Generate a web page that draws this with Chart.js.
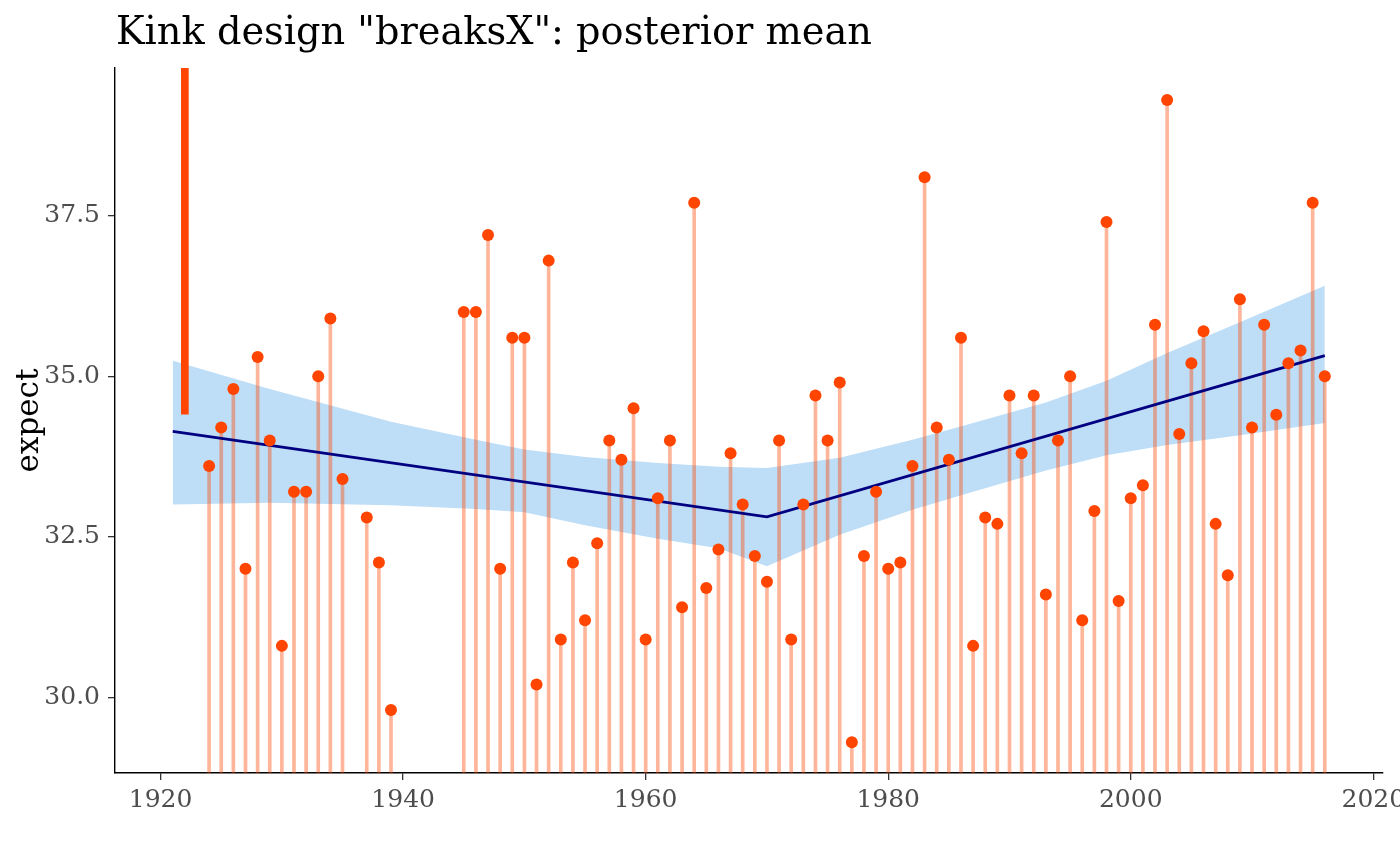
<!DOCTYPE html>
<html>
<head>
<meta charset="utf-8">
<script src="https://cdn.jsdelivr.net/npm/chart.js@4.4.0/dist/chart.umd.min.js"></script>
<style>
  html, body { margin: 0; padding: 0; background: #fff; }
  #wrap { width: 1400px; height: 866px; }
</style>
</head>
<body>
<div id="wrap"><canvas id="chart" width="1400" height="866"></canvas></div>
<script>
// observed years and their posterior mean
const years = [1924, 1925, 1926, 1927, 1928, 1929, 1930, 1931, 1932, 1933, 1934, 1935,
    1937, 1938, 1939,
    1945, 1946, 1947, 1948, 1949, 1950, 1951, 1952, 1953, 1954, 1955, 1956, 1957, 1958, 1959,
    1960, 1961, 1962, 1963, 1964, 1965, 1966, 1967, 1968, 1969,
    1970, 1971, 1972, 1973, 1974, 1975, 1976, 1977, 1978, 1979,
    1980, 1981, 1982, 1983, 1984, 1985, 1986, 1987, 1988, 1989,
    1990, 1991, 1992, 1993, 1994, 1995, 1996, 1997, 1998, 1999,
    2000, 2001, 2002, 2003, 2004, 2005, 2006, 2007, 2008, 2009,
    2010, 2011, 2012, 2013, 2014, 2015, 2016];
const expectVals = [33.6, 34.2, 34.8, 32.0, 35.3, 34.0, 30.8, 33.2, 33.2, 35.0, 35.9, 33.4,
    32.8, 32.1, 29.8,
    36.0, 36.0, 37.2, 32.0, 35.6, 35.6, 30.2, 36.8, 30.9, 32.1, 31.2, 32.4, 34.0, 33.7, 34.5,
    30.9, 33.1, 34.0, 31.4, 37.7, 31.7, 32.3, 33.8, 33.0, 32.2,
    31.8, 34.0, 30.9, 33.0, 34.7, 34.0, 34.9, 29.3, 32.2, 33.2,
    32.0, 32.1, 33.6, 38.1, 34.2, 33.7, 35.6, 30.8, 32.8, 32.7,
    34.7, 33.8, 34.7, 31.6, 34.0, 35.0, 31.2, 32.9, 37.4, 31.5,
    33.1, 33.3, 35.8, 39.3, 34.1, 35.2, 35.7, 32.7, 31.9, 36.2,
    34.2, 35.8, 34.4, 35.2, 35.4, 37.7, 35.0];

// kink fit (posterior mean line)
const fitYears = [1921, 1970, 2016];
const fitVals = [34.14, 32.81, 35.32];

// credible band
const bandYears = [1921, 1929, 1939, 1946, 1950, 1955, 1961, 1966, 1970, 1976, 1982, 1987, 1993, 1998, 2003, 2009, 2016];
const bandUpper = [35.24, 34.80, 34.29, 34.01, 33.86, 33.74, 33.65, 33.59, 33.57, 33.73, 34.01, 34.27, 34.59, 34.93, 35.36, 35.84, 36.41];
const bandLower = [33.00, 33.03, 32.99, 32.93, 32.88, 32.68, 32.47, 32.32, 32.04, 32.53, 32.92, 33.20, 33.53, 33.77, 33.93, 34.08, 34.27];

// thick marker segment
const markYear = 1922;
const markRange = [34.41, 39.8];

const xTicks = [1920, 1940, 1960, 1980, 2000, 2020];
const yTicks = [30, 32.5, 35, 37.5];
const xRange = [1916.24, 2020.8];
const yRange = [28.82, 39.8];

const SERIF = '"DejaVu Serif", serif';

const titlePlugin = {
    id: 'plotTitle',
    afterDraw(chart) {
        const ctx = chart.ctx;
        ctx.save();
        ctx.font = '38.3px ' + SERIF;
        ctx.fillStyle = '#000000';
        ctx.textBaseline = 'alphabetic';
        ctx.textAlign = 'left';
        ctx.fillText('Kink design "breaksX": posterior mean', 116, 44);
        ctx.restore();
    }
};

const toXY = (xs, ys) => xs.map((x, i) => ({ x: x, y: ys[i] }));

const axisGrid = {
    display: true,
    offset: false,
    drawOnChartArea: false,
    drawTicks: true,
    tickLength: 7,
    color: '#333333',
    lineWidth: 1.3
};

new Chart(document.getElementById('chart'), {
    type: 'line',
    data: {
        datasets: [
            {
                label: 'expect',
                data: toXY(years, expectVals),
                showLine: false,
                pointRadius: 6,
                pointBackgroundColor: '#FF4500',
                pointBorderWidth: 0,
                order: 0
            },
            {
                type: 'bar',
                label: 'marker',
                data: [{ x: markYear, y: markRange }],
                backgroundColor: '#FF4500',
                barThickness: 7,
                grouped: false,
                borderWidth: 0,
                order: 1
            },
            {
                label: 'fit',
                data: toXY(fitYears, fitVals),
                borderColor: '#000080',
                borderWidth: 2.7,
                pointRadius: 0,
                fill: false,
                tension: 0,
                order: 2
            },
            {
                type: 'bar',
                label: 'stems',
                data: years.map((y, i) => ({ x: y, y: [yRange[0], expectVals[i]] })),
                backgroundColor: 'rgba(255, 69, 0, 0.4)',
                barThickness: 3,
                grouped: false,
                borderWidth: 0,
                order: 3
            },
            {
                label: 'upper',
                data: toXY(bandYears, bandUpper),
                borderWidth: 0,
                pointRadius: 0,
                fill: '+1',
                backgroundColor: '#BEDDF6',
                tension: 0,
                order: 4
            },
            {
                label: 'lower',
                data: toXY(bandYears, bandLower),
                borderWidth: 0,
                pointRadius: 0,
                fill: false,
                tension: 0,
                order: 5
            }
        ]
    },
    options: {
        responsive: false,
        animation: false,
        events: [],
        layout: { padding: { top: 68, right: 17, left: 0, bottom: 0 } },
        plugins: {
            legend: { display: false },
            tooltip: { enabled: false },
            title: { display: false }
        },
        scales: {
            x: {
                type: 'linear',
                min: xRange[0],
                max: xRange[1],
                offset: false,
                afterBuildTicks: s => { s.ticks = xTicks.map(v => ({ value: v })); },
                afterFit: s => { s.height = 93; s.paddingLeft = 0; s.paddingRight = 0; },
                ticks: {
                    autoSkip: false,
                    maxRotation: 0,
                    padding: 5,
                    color: '#4D4D4D',
                    font: { family: SERIF, size: 25 },
                    callback: v => String(v)
                },
                grid: axisGrid,
                border: { display: true, color: '#000000', width: 1.4 }
            },
            y: {
                type: 'linear',
                min: yRange[0],
                max: yRange[1],
                afterBuildTicks: s => { s.ticks = yTicks.map(v => ({ value: v })); },
                afterFit: s => { s.width = 115; s.paddingTop = 0; s.paddingBottom = 0; },
                ticks: {
                    padding: 8,
                    color: '#4D4D4D',
                    font: { family: SERIF, size: 25 },
                    callback: v => v.toFixed(1)
                },
                grid: axisGrid,
                border: { display: true, color: '#000000', width: 1.4 },
                title: {
                    display: true,
                    text: 'expect',
                    color: '#000000',
                    font: { family: SERIF, size: 31 },
                    padding: { top: 11, bottom: 0 }
                }
            }
        }
    },
    plugins: [titlePlugin]
});
</script>
</body>
</html>
